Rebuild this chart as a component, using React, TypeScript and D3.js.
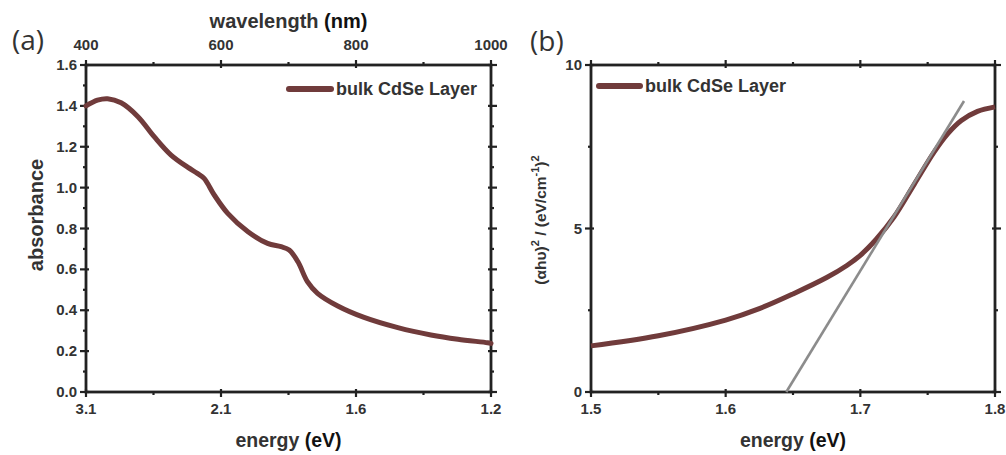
import React from "react";
import * as d3 from "d3";

// Panel (a): absorbance vs wavelength (nm)
const wavelengthA = [400, 417, 432, 452, 477, 501, 526, 551, 565, 575, 590, 610, 640, 669, 689, 701, 714, 728, 743, 773, 812, 862, 911, 951, 995, 1000];
const absorbanceA = [1.40, 1.428, 1.435, 1.415, 1.347, 1.249, 1.159, 1.099, 1.07, 1.045, 0.964, 0.874, 0.784, 0.727, 0.711, 0.695, 0.637, 0.54, 0.483, 0.421, 0.365, 0.315, 0.279, 0.258, 0.241, 0.238];
const topTicksA = [400, 600, 800, 1000];
const topMinorA = [500, 700, 900];
const bottomLabelsA = ["3.1", "2.1", "1.6", "1.2"];
const yTicksA = [0, 0.2, 0.4, 0.6, 0.8, 1.0, 1.2, 1.4, 1.6];
const yMinorA = [0.1, 0.3, 0.5, 0.7, 0.9, 1.1, 1.3, 1.5];

// Panel (b): Tauc plot
const energyB = [1.5, 1.55, 1.6, 1.625, 1.65, 1.675, 1.69, 1.7, 1.712, 1.725, 1.74, 1.755, 1.765, 1.775, 1.787, 1.8];
const taucB = [1.41, 1.72, 2.2, 2.55, 3.0, 3.5, 3.87, 4.18, 4.68, 5.35, 6.35, 7.35, 7.9, 8.3, 8.58, 8.72];
const fitEnergy = [1.645, 1.777];
const fitValue = [0, 8.9];
const xTicksB = [1.5, 1.6, 1.7, 1.8];
const xMinorB = [1.55, 1.65, 1.75];
const yTicksB = [0, 5, 10];
const yMinorB = [2.5, 7.5];

const CURVE = "#703b3b";
const AXIS = "#222";
const TXT = "#333";
const FONT = "'Liberation Sans', Arial, sans-serif";
const TICK_FS = 15;
const TITLE_FS = 19.5;
const LEG_FS = 18;

function Frame({ x0, x1, y0, y1 }: { x0: number; x1: number; y0: number; y1: number }) {
  return (
    <rect x={x0} y={y1} width={x1 - x0} height={y0 - y1} fill="none" stroke={AXIS} strokeWidth={2.8} />
  );
}

export default function App() {
  const xa = d3.scaleLinear().domain([400, 1000]).range([86, 491]);
  const ya = d3.scaleLinear().domain([0, 1.6]).range([392, 65]);
  const xb = d3.scaleLinear().domain([1.5, 1.8]).range([591, 995]);
  const yb = d3.scaleLinear().domain([0, 10]).range([392, 65]);

  const lineA = d3
    .line<number>()
    .x((_, i) => xa(wavelengthA[i]))
    .y((d) => ya(d))
    .curve(d3.curveCatmullRom.alpha(0.5));
  const lineB = d3
    .line<number>()
    .x((_, i) => xb(energyB[i]))
    .y((d) => yb(d))
    .curve(d3.curveCatmullRom.alpha(0.5));

  const [ax0, ax1] = xa.range();
  const [ay0, ay1] = ya.range();
  const [bx0, bx1] = xb.range();
  const [by0, by1] = yb.range();

  return (
    <svg
      width={1006}
      height={455}
      style={{ position: "absolute", left: 0, top: 0, background: "#fff" }}
      fontFamily={FONT}
    >
      <rect width={1006} height={455} fill="#fff" />

      {/* ---------- Panel (a) ---------- */}
      <text x={12} y={50} fontSize={28} fill={TXT} fontFamily="'Open Sans', 'DejaVu Sans', sans-serif">(a)</text>
      <text x={(ax0 + ax1) / 2} y={28} fontSize={20} fontWeight="bold" textAnchor="middle" fill={TXT}>
        wavelength <tspan fill="#111">(nm)</tspan>
      </text>

      <g stroke={AXIS} strokeWidth={2.2}>
        {topTicksA.map((t) => (
          <g key={"ta" + t}>
            <line x1={xa(t)} x2={xa(t)} y1={ay1 - 5} y2={ay1 + 3} />
            <line x1={xa(t)} x2={xa(t)} y1={ay0 - 3} y2={ay0 + 5} />
          </g>
        ))}
        {topMinorA.map((t) => (
          <g key={"tma" + t}>
            <line x1={xa(t)} x2={xa(t)} y1={ay1 - 3} y2={ay1} />
            <line x1={xa(t)} x2={xa(t)} y1={ay0} y2={ay0 + 3} />
          </g>
        ))}
        {yTicksA.map((t) => (
          <g key={"ya" + t}>
            <line x1={ax0 - 6} x2={ax0 + 3} y1={ya(t)} y2={ya(t)} />
            <line x1={ax1 - 3} x2={ax1 + 6} y1={ya(t)} y2={ya(t)} />
          </g>
        ))}
        {yMinorA.map((t) => (
          <g key={"yma" + t}>
            <line x1={ax0 - 3} x2={ax0} y1={ya(t)} y2={ya(t)} />
            <line x1={ax1} x2={ax1 + 3} y1={ya(t)} y2={ya(t)} />
          </g>
        ))}
      </g>
      <Frame x0={ax0} x1={ax1} y0={ay0} y1={ay1} />

      {topTicksA.map((t) => (
        <text key={"tla" + t} x={xa(t)} y={50} fontSize={TICK_FS} fontWeight="bold" textAnchor="middle" fill={TXT}>
          {t}
        </text>
      ))}
      {topTicksA.map((t, i) => (
        <text key={"bla" + t} x={xa(t)} y={414} fontSize={TICK_FS} fontWeight="bold" textAnchor="middle" fill={TXT}>
          {bottomLabelsA[i]}
        </text>
      ))}
      {yTicksA.map((t) => (
        <text key={"yla" + t} x={ax0 - 9} y={ya(t) + 5} fontSize={TICK_FS} fontWeight="bold" textAnchor="end" fill={TXT}>
          {t.toFixed(1)}
        </text>
      ))}
      <text x={(ax0 + ax1) / 2} y={447} fontSize={TITLE_FS} fontWeight="bold" textAnchor="middle" fill={TXT}>
        energy <tspan fill="#111">(eV)</tspan>
      </text>
      <text
        transform={`translate(43,215) rotate(-90)`}
        fontSize={20}
        fontWeight="bold"
        textAnchor="middle"
        fill={TXT}
      >
        absorbance
      </text>

      <path d={lineA(absorbanceA) || ""} fill="none" stroke={CURVE} strokeWidth={5} strokeLinecap="round" />

      <line x1={289} x2={331} y1={89} y2={89} stroke={CURVE} strokeWidth={6} strokeLinecap="round" />
      <text x={336} y={95} fontSize={LEG_FS} fontWeight="bold" fill={TXT}>bulk CdSe Layer</text>

      {/* ---------- Panel (b) ---------- */}
      <text x={530} y={51} fontSize={28} fill={TXT} fontFamily="'Open Sans', 'DejaVu Sans', sans-serif">(b)</text>

      <g stroke={AXIS} strokeWidth={2.2}>
        {xTicksB.map((t) => (
          <g key={"xb" + t}>
            <line x1={xb(t)} x2={xb(t)} y1={by1 - 5} y2={by1 + 3} />
            <line x1={xb(t)} x2={xb(t)} y1={by0 - 3} y2={by0 + 5} />
          </g>
        ))}
        {xMinorB.map((t) => (
          <g key={"xmb" + t}>
            <line x1={xb(t)} x2={xb(t)} y1={by1 - 3} y2={by1} />
            <line x1={xb(t)} x2={xb(t)} y1={by0} y2={by0 + 3} />
          </g>
        ))}
        {yTicksB.map((t) => (
          <g key={"yb" + t}>
            <line x1={bx0 - 6} x2={bx0 + 3} y1={yb(t)} y2={yb(t)} />
            <line x1={bx1 - 3} x2={bx1 + 6} y1={yb(t)} y2={yb(t)} />
          </g>
        ))}
        {yMinorB.map((t) => (
          <g key={"ymb" + t}>
            <line x1={bx0 - 3} x2={bx0} y1={yb(t)} y2={yb(t)} />
            <line x1={bx1} x2={bx1 + 3} y1={yb(t)} y2={yb(t)} />
          </g>
        ))}
      </g>
      <Frame x0={bx0} x1={bx1} y0={by0} y1={by1} />

      {xTicksB.map((t) => (
        <text key={"xlb" + t} x={xb(t)} y={414} fontSize={TICK_FS} fontWeight="bold" textAnchor="middle" fill={TXT}>
          {t.toFixed(1)}
        </text>
      ))}
      {yTicksB.map((t) => (
        <text key={"ylb" + t} x={bx0 - 9} y={yb(t) + 5} fontSize={TICK_FS} fontWeight="bold" textAnchor="end" fill={TXT}>
          {t}
        </text>
      ))}
      <text x={(bx0 + bx1) / 2} y={447} fontSize={TITLE_FS} fontWeight="bold" textAnchor="middle" fill={TXT}>
        energy <tspan fill="#111">(eV)</tspan>
      </text>
      <text
        transform={`translate(546,220) rotate(-90)`}
        fontSize={15.5}
        fontWeight="bold"
        textAnchor="middle"
        fill={TXT}
      >
        (αhυ)<tspan fontSize={11} dy={-7}>2</tspan>
        <tspan dy={7}> / (eV/cm</tspan>
        <tspan fontSize={11} dy={-7}>-1</tspan>
        <tspan dy={7}>)</tspan>
        <tspan fontSize={11} dy={-7}>2</tspan>
      </text>

      <path d={lineB(taucB) || ""} fill="none" stroke={CURVE} strokeWidth={5} strokeLinecap="butt" />
      <line
        x1={xb(fitEnergy[0])}
        y1={yb(fitValue[0])}
        x2={xb(fitEnergy[1])}
        y2={yb(fitValue[1])}
        stroke="#8c8c8c"
        strokeWidth={2.6}
      />

      <line x1={599} x2={640} y1={86} y2={86} stroke={CURVE} strokeWidth={6} strokeLinecap="round" />
      <text x={645} y={92} fontSize={LEG_FS} fontWeight="bold" fill={TXT}>bulk CdSe Layer</text>
    </svg>
  );
}
